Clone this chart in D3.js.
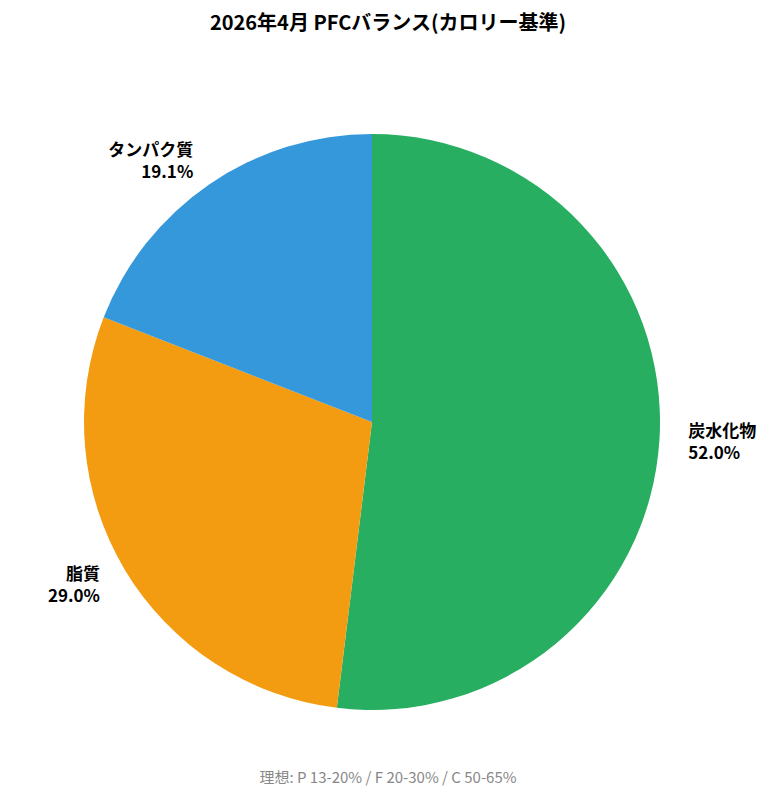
<!DOCTYPE html><html><head><meta charset="utf-8"><script src="https://cdn.jsdelivr.net/npm/d3@7"></script>
<style>body{margin:0;background:#fff}</style></head><body><svg id="c" width="776" height="800"></svg>
<script>
const categories=["炭水化物","脂質","タンパク質"];
const values=[52.0,29.0,19.1];
const colors=["#27ae60","#f39c12","#3498db"];
const title="2026年4月 PFCバランス(カロリー基準)";
const footer="理想: P 13-20% / F 20-30% / C 50-65%";
const svg=d3.select("#c"),font="'Noto Sans CJK JP','Noto Sans',sans-serif";
const cx=372,cy=422,r=288;
svg.append("text").attr("x",388).attr("y",30).attr("text-anchor","middle").attr("font-family",font).attr("font-weight","bold").attr("font-size",20).text(title);
const pie=d3.pie().sort(null).value(d=>d)(values);
const g=svg.append("g").attr("transform",`translate(${cx},${cy})`);
g.selectAll("path").data(pie).join("path").attr("d",d3.arc().innerRadius(0).outerRadius(r)).attr("fill",(d,i)=>colors[i]);
const la=d3.arc().innerRadius(r*1.1).outerRadius(r*1.1);
pie.forEach((d,i)=>{const [x,y]=la.centroid(d);const right=x>0;
const t=g.append("text").attr("x",x).attr("y",y).attr("text-anchor",right?"start":"end").attr("font-family",font).attr("font-weight","bold").attr("font-size",17);
t.append("tspan").attr("x",x).attr("dy","-0.25em").text(categories[i]);
t.append("tspan").attr("x",x).attr("dy","1.3em").text(values[i].toFixed(1)+"%");});
svg.append("text").attr("x",388).attr("y",783).attr("text-anchor","middle").attr("font-family",font).attr("font-size",15).attr("fill","#888").text(footer);
</script></body></html>
